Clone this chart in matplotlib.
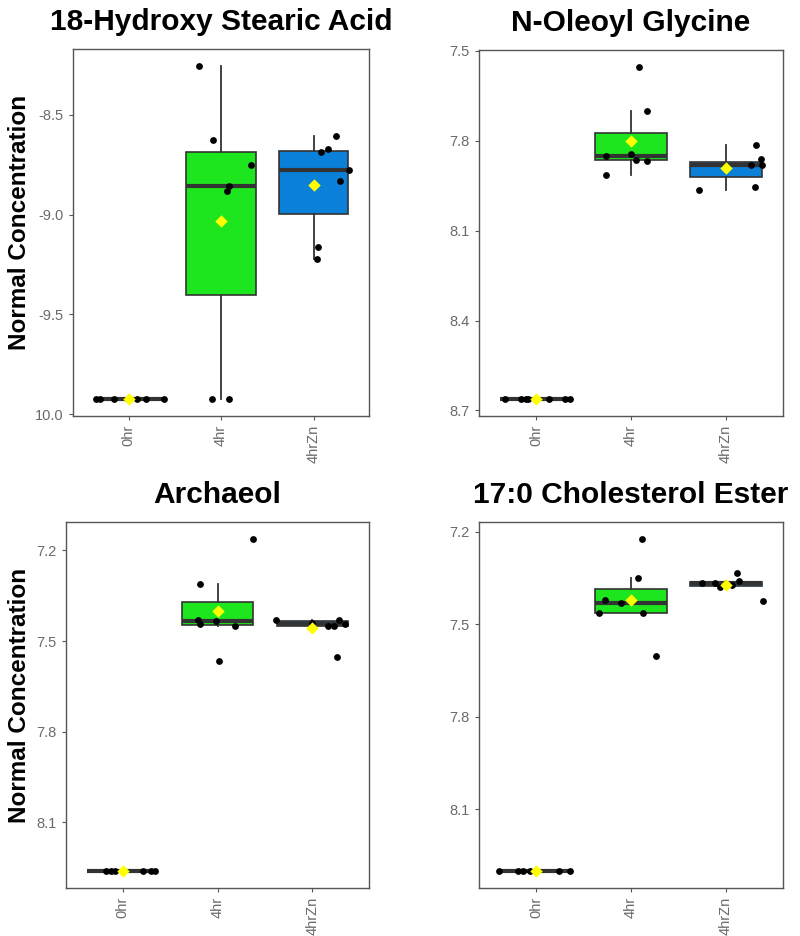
import numpy as np
import matplotlib
matplotlib.use("Agg")
import matplotlib.pyplot as plt

plt.rcParams['font.family'] = ['Liberation Sans', 'DejaVu Sans']

groups = ["0hr", "4hr", "4hrZn"]
titles = ["18-Hydroxy Stearic Acid", "N-Oleoyl Glycine", "Archaeol", "17:0 Cholesterol Ester"]

# values, one list per group
hydroxy_0hr = [-9.925] * 7
hydroxy_4hr = [-8.255, -8.625, -8.753, -8.855, -8.883, -9.925, -9.925]
hydroxy_4hrzn = [-8.605, -8.672, -8.688, -8.777, -8.833, -9.163, -9.225]

oleoyl_0hr = [8.663] * 8
oleoyl_4hr = [7.553, 7.702, 7.845, 7.852, 7.864, 7.867, 7.913]
oleoyl_4hrzn = [7.813, 7.861, 7.881, 7.881, 7.889, 7.956, 7.963]

archaeol_0hr = [8.262] * 7
archaeol_4hr = [7.161, 7.311, 7.429, 7.433, 7.444, 7.449, 7.565]
archaeol_4hrzn = [7.429, 7.440, 7.429, 7.451, 7.451, 7.442, 7.552]

chol_0hr = [8.302] * 7
chol_4hr = [7.222, 7.350, 7.420, 7.431, 7.464, 7.464, 7.602]
chol_4hrzn = [7.335, 7.365, 7.365, 7.359, 7.379, 7.372, 7.424]

# horizontal jitter of each point, as seen in the picture
hydroxy_jit = [[-0.35, -0.31, -0.16, -0.01, 0.09, 0.19, 0.38],
               [-0.24, -0.09, 0.32, 0.09, 0.07, -0.10, 0.09],
               [0.24, 0.16, 0.08, 0.38, 0.29, 0.05, 0.04]]
oleoyl_jit = [[-0.33, -0.16, -0.11, -0.08, 0.0, 0.14, 0.30, 0.36],
              [0.08, 0.17, 0.0, -0.26, 0.05, 0.17, -0.26],
              [0.32, 0.37, 0.26, 0.38, 0.0, 0.30, -0.28]]
archaeol_jit = [[-0.18, -0.13, -0.08, 0.0, 0.21, 0.30, 0.34],
                [0.38, -0.19, -0.21, -0.02, -0.18, 0.18, 0.02],
                [-0.38, 0.0, 0.28, 0.17, 0.23, 0.35, 0.26]]
chol_jit = [[-0.39, -0.19, -0.14, -0.06, 0.0, 0.24, 0.36],
            [0.12, 0.07, -0.27, -0.11, -0.34, 0.13, 0.26],
            [0.12, -0.25, -0.12, 0.14, -0.06, 0.06, 0.39]]

hydroxy_ticks = [-10.0, -9.5, -9.0, -8.5]
hydroxy_ticklabels = ["10.0", "-9.5", "-9.0", "-8.5"]
other_ticks = [[7.5, 7.8, 8.1, 8.4, 8.7], [7.2, 7.5, 7.8, 8.1], [7.2, 7.5, 7.8, 8.1]]

panels = [
    ([hydroxy_0hr, hydroxy_4hr, hydroxy_4hrzn], hydroxy_jit),
    ([oleoyl_0hr, oleoyl_4hr, oleoyl_4hrzn], oleoyl_jit),
    ([archaeol_0hr, archaeol_4hr, archaeol_4hrzn], archaeol_jit),
    ([chol_0hr, chol_4hr, chol_4hrzn], chol_jit),
]

box_colors = ["#ff6f61", "#1ee61e", "#0a80d8"]
W, H = 800, 936
rects = [(73, 49, 369, 416), (479, 50, 783, 416), (66, 522, 369, 888), (479, 522, 783, 888)]

fig = plt.figure(figsize=(W / 100, H / 100), dpi=100)

for i, (data, jit) in enumerate(panels):
    l, t, r, b = rects[i]
    ax = fig.add_axes([l / W, 1 - b / H, (r - l) / W, (b - t) / H])
    pos = np.arange(len(groups))
    bp = ax.boxplot(data, positions=pos, widths=0.75, patch_artist=True,
                    showfliers=False, showcaps=False,
                    medianprops=dict(color="#333333", linewidth=3),
                    whiskerprops=dict(color="#333333", linewidth=1.3),
                    boxprops=dict(edgecolor="#333333", linewidth=1.2))
    for patch, c in zip(bp["boxes"], box_colors):
        patch.set_facecolor(c)
    for k, vals in enumerate(data):
        xs = pos[k] + np.array(jit[k])
        ax.scatter(xs, vals, s=24, color="black", zorder=4, linewidths=0)
        ax.scatter([pos[k]], [np.mean(vals)], marker="D", s=40, color="#ffff00",
                   zorder=5, linewidths=0)

    allv = np.concatenate(data)
    lo, hi = allv.min(), allv.max()
    pad = 0.05 * (hi - lo)
    ax.set_xlim(-0.6, 2.6)
    if i == 0:
        ax.set_ylim(lo - pad, hi + pad)
        ax.set_yticks(hydroxy_ticks)
        ax.set_yticklabels(hydroxy_ticklabels)
    else:
        ax.set_ylim(hi + pad, lo - pad)
        ax.set_yticks(other_ticks[i - 1])
        ax.set_yticklabels(["%.1f" % v for v in other_ticks[i - 1]])
    ax.set_xticks(pos)
    ax.set_xticklabels(groups, rotation=90)
    ax.tick_params(colors="#555555", labelcolor="#6a6a6a", labelsize=10.5, length=3, width=0.8)
    for s in ax.spines.values():
        s.set_color("#555555")
        s.set_linewidth(1.0)
    ax.set_title(titles[i], fontsize=21.5, fontweight="bold", pad=14)
    if i % 2 == 0:
        ax.set_ylabel("Normal Concentration", fontsize=17.5, fontweight="bold")
        ax.yaxis.set_label_coords((31 - l) / (r - l), 0.527)

fig.savefig("out.png", dpi=100, facecolor="white")
